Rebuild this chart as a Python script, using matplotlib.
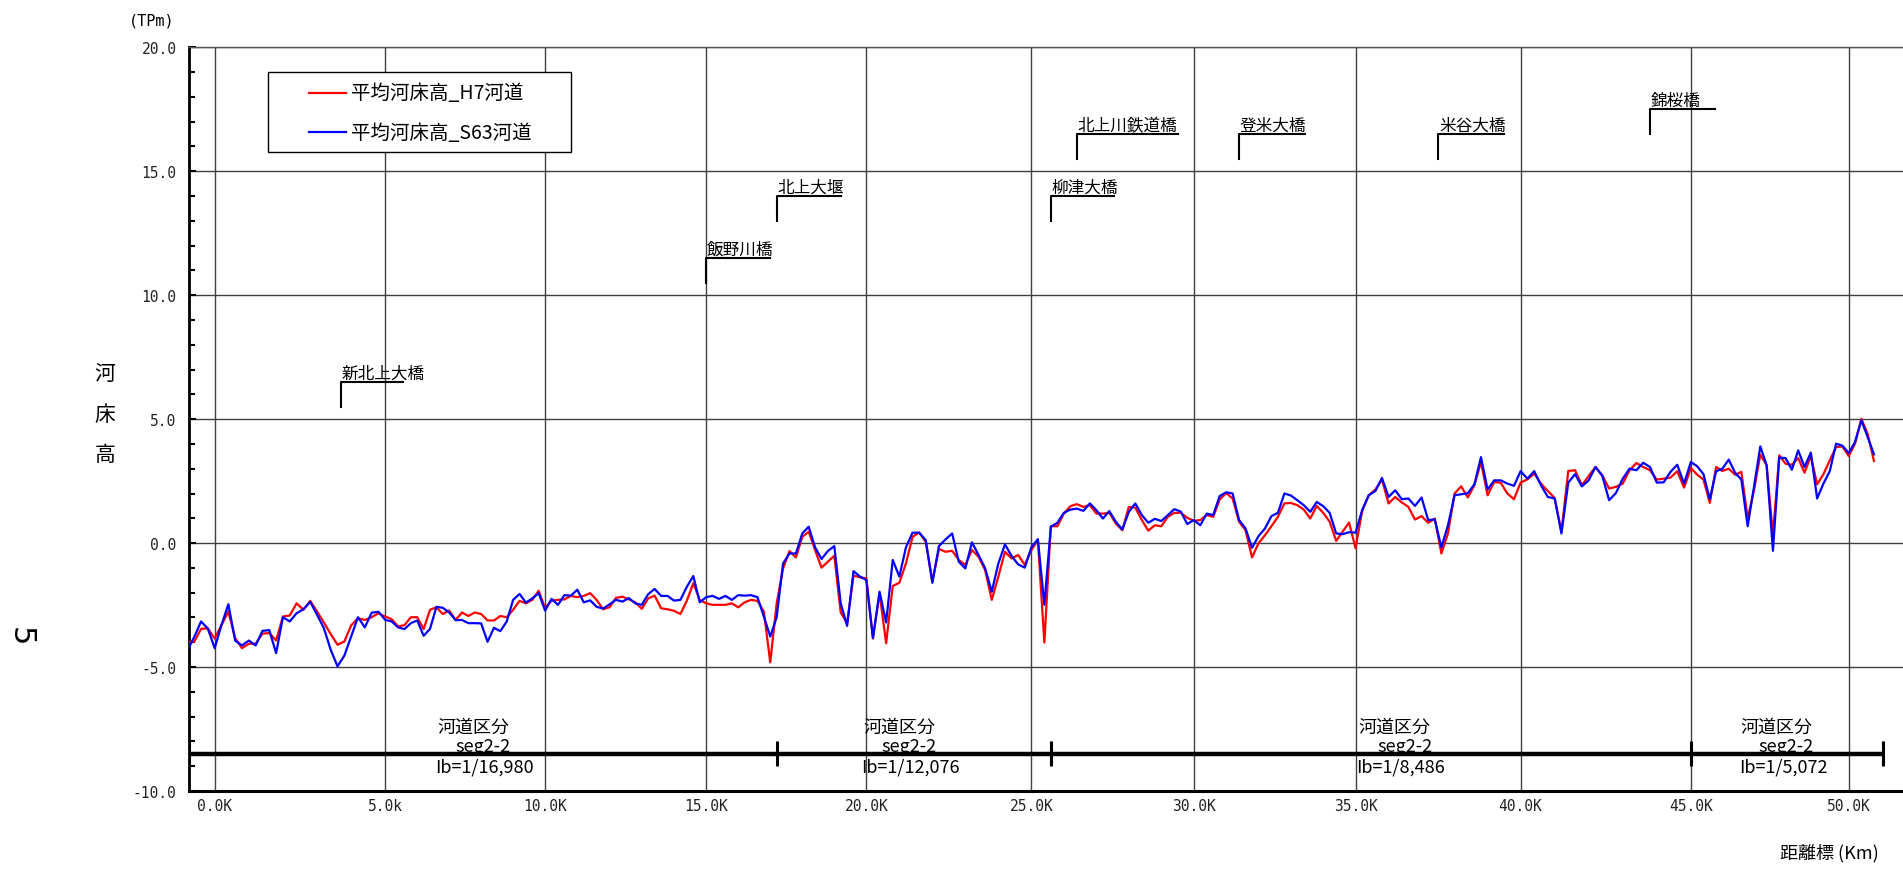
import numpy as np
import matplotlib
matplotlib.use("Agg")
import matplotlib.pyplot as plt
from matplotlib.lines import Line2D
from matplotlib.patches import Rectangle
from matplotlib.ticker import MultipleLocator, FormatStrFormatter

plt.rcParams["font.family"] = ["Noto Sans CJK JP", "DejaVu Sans"]

W, H = 1903, 870

# distance markers every 200 m (km)
KM = np.arange(-4, 255) * 0.2

# mean bed elevation (TP m), one row per 5 km block
BED_H7 = [
    -3.98, -3.98, -3.46, -3.44,
    -3.85, -3.30, -2.76, -3.83, -4.24, -4.06, -4.06, -3.65, -3.63, -3.93, -2.96, -2.92, -2.43,
    -2.69, -2.33, -2.76, -3.20, -3.67, -4.10, -3.97, -3.32, -3.03, -3.10, -2.99, -2.83, -2.96,
    -3.07, -3.36, -3.31, -2.99, -2.99, -3.47, -2.69, -2.59, -2.86, -2.72, -3.10, -2.80, -2.94,
    -2.80, -2.86, -3.12, -3.12, -2.94, -2.99, -2.69, -2.33, -2.43, -2.29, -1.92, -2.63,
    -2.32, -2.29, -2.27, -2.13, -2.18, -2.13, -2.02, -2.29, -2.67, -2.59, -2.21, -2.16, -2.27,
    -2.39, -2.65, -2.23, -2.12, -2.63, -2.67, -2.73, -2.86, -2.32, -1.62, -2.29, -2.43,
    -2.49, -2.49, -2.49, -2.43, -2.59, -2.39, -2.29, -2.33, -2.76, -4.81, -2.43, -1.02, -0.32,
    -0.58, 0.25, 0.46, -0.28, -0.99, -0.75, -0.51, -2.80, -3.23, -1.31, -1.38, -1.42,
    -3.85, -2.02, -4.04, -1.73, -1.60, -0.82, 0.25, 0.43, 0.05, -1.55, -0.24, -0.35, -0.31,
    -0.68, -0.88, -0.28, -0.55, -1.09, -2.29, -1.35, -0.35, -0.62, -0.48, -0.88, -0.28,
    0.12, -4.01, 0.68, 0.68, 1.19, 1.49, 1.57, 1.46, 1.53, 1.19, 1.19, 1.22, 0.79,
    0.52, 1.46, 1.43, 0.93, 0.50, 0.72, 0.68, 1.06, 1.22, 1.22, 1.02, 0.90,
    0.93, 1.13, 1.06, 1.76, 2.02, 1.80, 0.86, 0.52, -0.58, -0.01, 0.32, 0.68, 1.06,
    1.60, 1.62, 1.53, 1.35, 0.99, 1.50, 1.22, 0.86, 0.09, 0.46, 0.83, -0.21,
    1.30, 1.93, 2.16, 2.56, 1.60, 1.86, 1.64, 1.46, 0.95, 1.09, 0.82, 0.99, -0.42,
    0.39, 2.00, 2.29, 1.84, 2.33, 3.27, 1.93, 2.47, 2.43, 2.00, 1.77, 2.44,
    2.57, 2.80, 2.40, 2.10, 1.82, 0.46, 2.91, 2.94, 2.33, 2.71, 3.07, 2.73, 2.20,
    2.27, 2.40, 2.94, 3.23, 3.07, 2.94, 2.56, 2.60, 2.64, 2.90, 2.24, 3.03,
    2.76, 2.56, 1.62, 3.07, 2.91, 3.00, 2.76, 2.87, 0.99, 2.13, 3.57, 3.14, 0.32,
    3.54, 3.20, 3.16, 3.43, 2.84, 3.51, 2.37, 2.78, 3.34, 3.87, 3.90, 3.51,
    4.01, 5.01, 4.41, 3.31,
]

BED_S63 = [
    -4.33, -3.79, -3.16, -3.45,
    -4.24, -3.30, -2.47, -3.93, -4.13, -3.93, -4.13, -3.54, -3.51, -4.44, -2.99, -3.16, -2.83,
    -2.67, -2.37, -2.89, -3.43, -4.30, -4.97, -4.54, -3.77, -2.99, -3.40, -2.81, -2.77, -3.10,
    -3.16, -3.40, -3.47, -3.23, -3.12, -3.74, -3.46, -2.57, -2.61, -2.80, -3.11, -3.10, -3.23,
    -3.23, -3.24, -3.98, -3.42, -3.55, -3.16, -2.29, -2.05, -2.40, -2.23, -2.02, -2.72,
    -2.25, -2.49, -2.10, -2.12, -1.88, -2.39, -2.31, -2.57, -2.64, -2.47, -2.29, -2.36, -2.22,
    -2.43, -2.49, -2.06, -1.85, -2.13, -2.13, -2.32, -2.29, -1.76, -1.33, -2.39, -2.18,
    -2.13, -2.25, -2.13, -2.29, -2.10, -2.12, -2.10, -2.18, -2.96, -3.77, -2.99, -0.82, -0.42,
    -0.42, 0.39, 0.66, -0.17, -0.64, -0.32, -0.12, -2.43, -3.34, -1.13, -1.35, -1.49,
    -3.83, -1.96, -3.20, -0.68, -1.35, -0.17, 0.42, 0.42, 0.12, -1.60, -0.12, 0.15, 0.39,
    -0.75, -1.02, 0.03, -0.48, -1.02, -1.96, -0.82, -0.05, -0.52, -0.86, -0.99, -0.17,
    0.16, -2.49, 0.66, 0.82, 1.22, 1.35, 1.39, 1.30, 1.60, 1.33, 0.99, 1.29, 0.86,
    0.55, 1.26, 1.60, 1.13, 0.82, 0.98, 0.89, 1.13, 1.37, 1.27, 0.77, 0.93,
    0.72, 1.19, 1.13, 1.90, 2.05, 2.00, 0.93, 0.59, -0.19, 0.28, 0.59, 1.09, 1.22,
    2.00, 1.92, 1.73, 1.53, 1.26, 1.66, 1.49, 1.22, 0.39, 0.36, 0.44, 0.42,
    1.33, 1.93, 2.10, 2.63, 1.86, 2.13, 1.77, 1.80, 1.50, 1.84, 0.93, 0.95, -0.17,
    0.72, 1.93, 1.97, 2.01, 2.37, 3.47, 2.16, 2.53, 2.53, 2.40, 2.31, 2.90,
    2.60, 2.90, 2.33, 1.86, 1.80, 0.39, 2.44, 2.78, 2.29, 2.53, 3.07, 2.71, 1.73,
    2.02, 2.60, 3.00, 2.94, 3.24, 3.07, 2.44, 2.45, 2.87, 3.16, 2.40, 3.27,
    3.10, 2.78, 1.77, 2.90, 3.00, 3.37, 2.84, 2.56, 0.68, 2.27, 3.90, 3.14, -0.31,
    3.45, 3.43, 2.96, 3.74, 3.07, 3.65, 1.80, 2.40, 2.90, 4.01, 3.93, 3.63,
    4.08, 4.95, 4.28, 3.58,
]

SERIES_LABELS = ["平均河床高_H7河道", "平均河床高_S63河道"]
SERIES_COLORS = ["#ff0000", "#0000ff"]

# km posts and where they fall on the drawn distance axis
POST_KM = [0, 5, 10, 15, 20, 25, 30, 35, 40, 45, 50]
POST_POS = [0.0, 5.22, 10.11, 15.04, 19.94, 24.99, 29.96, 34.91, 39.96, 45.17, 50.0]
POST_LABELS = ["0.0K", "5.0k", "10.0K", "15.0K", "20.0K", "25.0K",
               "30.0K", "35.0K", "40.0K", "45.0K", "50.0K"]

BRIDGES = ["新北上大橋", "飯野川橋", "北上大堰", "柳津大橋",
           "北上川鉄道橋", "登米大橋", "米谷大橋", "錦桜橋"]
BRIDGE_KM = [3.7, 15.0, 17.2, 25.6, 26.4, 31.4, 37.5, 43.8]

SEG_BOUNDS = [17.2, 25.6, 45.0, 51.1]
SEG_SLOPES = ["Ib=1/16,980", "Ib=1/12,076", "Ib=1/8,486", "Ib=1/5,072"]
SEG_NAME = "seg2-2"

# ---- layout (not data) ----
BRIDGE_BASE = [5.5, 10.5, 13.0, 13.0, 15.5, 15.5, 15.5, 16.5]
BRIDGE_TAB = [1.85, 2.0, 2.0, 1.95, 3.1, 2.05, 2.0, 1.95]
SEG_TEXT_KM = [6.62, 19.9, 35.08, 46.58]
XMIN, XMAX = -0.753, 51.72

nom_ext = [-10.0] + POST_KM + [60.0]
pos_ext = [-10.44] + POST_POS + [59.66]


def fwd(x):
    return np.interp(x, nom_ext, pos_ext)


def inv(p):
    return np.interp(p, pos_ext, nom_ext)


def fx(px):
    return px / W


def fy(py):
    return 1 - py / H


fig = plt.figure(figsize=(W / 100, H / 100), dpi=100)
ax = fig.add_axes([fx(189), 78 / H, (W - 189) / W, (792 - 48.3) / H])
ax.set_xscale("function", functions=(fwd, inv))
ax.set_xlim(XMIN, XMAX)
ax.set_ylim(-10, 20)

# grid
ax.set_xticks(POST_KM)
ax.set_xticklabels(POST_LABELS, fontfamily="DejaVu Sans Mono", fontsize=10.5, color="#222222")
ax.yaxis.set_major_locator(MultipleLocator(5))
ax.yaxis.set_minor_locator(MultipleLocator(1))
ax.yaxis.set_major_formatter(FormatStrFormatter("%.1f"))
for lbl in ax.get_yticklabels():
    lbl.set_fontfamily("DejaVu Sans Mono")
ax.tick_params(axis="y", which="both", direction="in", width=1.5, labelsize=10.5,
               labelcolor="#222222", pad=9)
ax.tick_params(axis="y", which="major", length=5)
ax.tick_params(axis="y", which="minor", length=4)
ax.tick_params(axis="x", length=0, pad=5)
ax.grid(True, which="major", color="#404040", lw=1.0)
ax.set_axisbelow(True)

ax.spines["right"].set_visible(False)
ax.spines["top"].set_color("#555555")
ax.spines["top"].set_linewidth(1.0)
ax.spines["left"].set_linewidth(2.0)
ax.spines["bottom"].set_linewidth(2.2)

# profiles
for vals, col, z in zip([BED_H7, BED_S63], SERIES_COLORS, [3, 4]):
    ax.plot(KM, vals, color=col, lw=1.6, zorder=z)

# bridges
for name, km, base, tab in zip(BRIDGES, BRIDGE_KM, BRIDGE_BASE, BRIDGE_TAB):
    ax.plot([km, km, km + tab], [base, base + 1.0, base + 1.0], color="black", lw=1.5, zorder=5)
    ax.text(km + 0.03, base + 1.0, name, ha="left", va="bottom", fontsize=12, zorder=5)

# channel segments
ax.hlines(-8.5, XMIN, SEG_BOUNDS[-1], color="black", lw=3.2, zorder=5)
ax.vlines([XMIN] + SEG_BOUNDS, -9.0, -8.0, color="black", lw=2.2, zorder=5)
for x0, slope in zip(SEG_TEXT_KM, SEG_SLOPES):
    ax.text(x0, -7.41, "河道区分", ha="left", va="center", fontsize=13, zorder=6)
    ax.text(x0 + 0.57, -8.2, SEG_NAME, ha="left", va="center", fontsize=13, zorder=6)
    ax.text(x0 - 0.06, -9.03, slope, ha="left", va="center", fontsize=13, zorder=6)

# legend box
fig.add_artist(Rectangle((fx(268), fy(153)), (571 - 268) / W, (153 - 73) / H,
                         transform=fig.transFigure, facecolor="white",
                         edgecolor="black", lw=1.0))
for label, col, ly in zip(SERIES_LABELS, SERIES_COLORS, [94, 133]):
    fig.add_artist(Line2D([fx(309), fx(346)], [fy(ly), fy(ly)], color=col, lw=1.6,
                          transform=fig.transFigure))
    fig.text(fx(351), fy(ly), label, ha="left", va="center", fontsize=14)

# outer texts
fig.text(fx(152), fy(21), "(TPm)", ha="center", va="center",
         fontfamily="DejaVu Sans Mono", fontsize=11)
for ch, ly in zip("河床高", [374, 415, 455]):
    fig.text(fx(105), fy(ly), ch, ha="center", va="center", fontsize=15)
fig.text(fx(20), fy(637), "5", ha="center", va="center", rotation=-90,
         fontfamily="DejaVu Sans", fontsize=22)
fig.text(fx(1879), fy(853), "距離標 (Km)", ha="right", va="center", fontsize=13)

fig.savefig("out.png", dpi=100)
